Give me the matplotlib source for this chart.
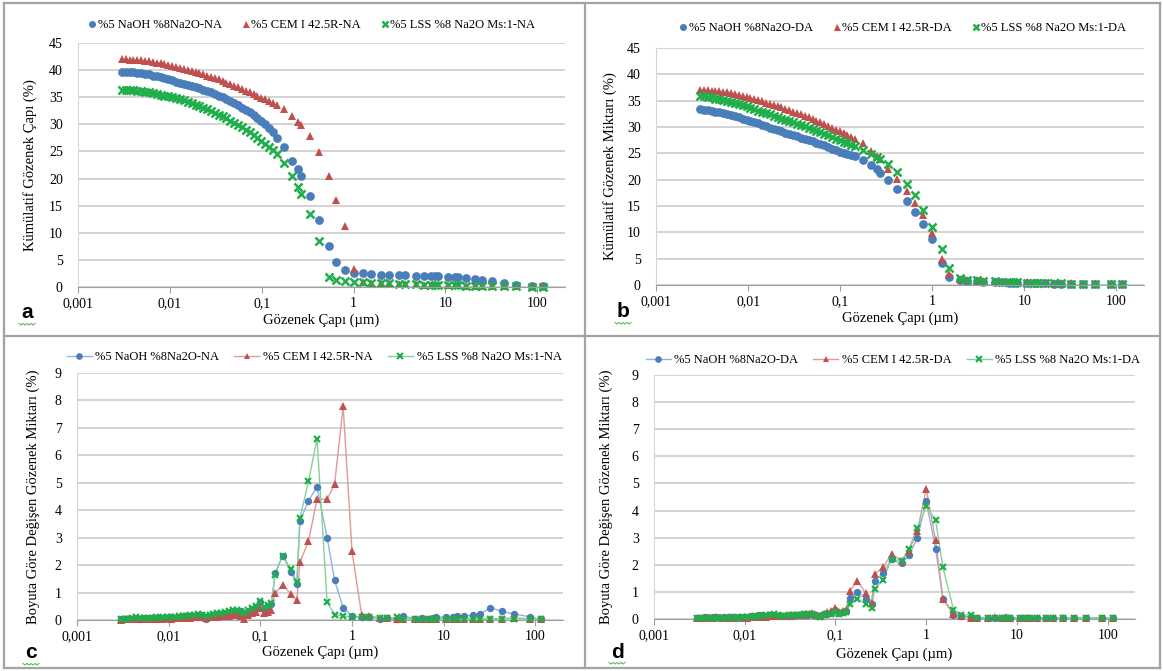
import numpy as np
import matplotlib.pyplot as plt
from matplotlib.lines import Line2D

plt.rcParams['font.family'] = ['Liberation Serif', 'DejaVu Serif']

# pore diameters (um), same intrusion steps for every mix
pore_d = [0.00300, 0.00331, 0.00364, 0.00401, 0.00442, 0.00487, 0.00537, 0.00592, 0.00652, 0.00719,
          0.00792, 0.00873, 0.00962, 0.0106, 0.0117, 0.0129, 0.0142, 0.0156, 0.0172, 0.0190,
          0.0209, 0.0230, 0.0254, 0.0280, 0.0308, 0.0340, 0.0374, 0.0413, 0.0455, 0.0501,
          0.0552, 0.0609, 0.0671, 0.0739, 0.0815, 0.0898, 0.0989, 0.109, 0.120, 0.132,
          0.145,
          0.175, 0.215, 0.250, 0.270, 0.335, 0.415, 0.535, 0.645, 0.800, 1.00,
          1.27, 1.53, 2.00, 2.40, 3.10, 3.60, 4.80, 5.80, 6.90, 7.60,
          8.30, 10.7, 12.6, 13.8, 16.6, 21.0, 25.0, 32.0, 43.0, 58.0,
          87.0, 114.0]

# cumulative pore volume (%) - NA
cum_naoh_na = [39.7, 39.7, 39.6, 39.6, 39.5, 39.4, 39.3, 39.2, 39.0, 38.9,
               38.7, 38.5, 38.3, 38.1, 37.9, 37.7, 37.5, 37.3, 37.1, 36.9,
               36.7, 36.4, 36.2, 35.9, 35.6, 35.3, 35.0, 34.6, 34.3, 33.9,
               33.5, 33.1, 32.7, 32.2, 31.7, 31.2, 30.6, 30.0, 29.3, 28.5,
               27.5,
               25.8, 23.3, 21.7, 20.4, 16.7, 12.3, 7.6, 4.6, 3.1, 2.6,
               2.5, 2.4, 2.3, 2.3, 2.2, 2.2, 2.1, 2.1, 2.0, 2.0,
               2.0, 1.9, 1.8, 1.8, 1.7, 1.4, 1.2, 1.05, 0.7, 0.45,
               0.2, 0.1]
cum_cem_na = [42.0, 42.0, 41.9, 41.9, 41.9, 41.8, 41.7, 41.6, 41.5, 41.4,
              41.3, 41.1, 41.0, 40.8, 40.6, 40.4, 40.2, 40.0, 39.8, 39.6,
              39.4, 39.2, 39.0, 38.8, 38.5, 38.3, 38.0, 37.7, 37.4, 37.1,
              36.8, 36.5, 36.2, 35.9, 35.6, 35.2, 34.9, 34.6, 34.3, 34.0,
              33.6,
              32.9, 31.6, 30.5, 29.8, 27.8, 24.9, 20.5, 16.1, 11.2, 3.4,
              0.9, 0.8, 0.7, 0.65, 0.6, 0.55, 0.5, 0.45, 0.4, 0.4,
              0.35, 0.3, 0.3, 0.3, 0.25, 0.25, 0.2, 0.2, 0.15, 0.15,
              0.1, 0.1]
cum_lss_na = [36.4, 36.4, 36.3, 36.3, 36.2, 36.1, 36.0, 35.9, 35.8, 35.6,
              35.5, 35.3, 35.2, 35.0, 34.8, 34.6, 34.4, 34.1, 33.9, 33.6,
              33.4, 33.1, 32.8, 32.5, 32.1, 31.8, 31.5, 31.1, 30.7, 30.3,
              29.9, 29.5, 29.0, 28.5, 28.0, 27.5, 27.0, 26.4, 25.8, 25.2,
              24.5,
              22.8, 20.4, 18.5, 17.2, 13.4, 8.4, 1.9, 1.3, 1.1, 1.0,
              0.9, 0.8, 0.7, 0.65, 0.6, 0.5, 0.5, 0.45, 0.4, 0.4,
              0.35, 0.3, 0.3, 0.3, 0.25, 0.2, 0.2, 0.15, 0.15, 0.1,
              0.05, 0.05]

# cumulative pore volume (%) - DA
cum_naoh_da = [33.4, 33.3, 33.2, 33.1, 32.9, 32.8, 32.6, 32.4, 32.2, 32.0,
               31.8, 31.6, 31.4, 31.2, 30.9, 30.7, 30.4, 30.2, 29.9, 29.7,
               29.4, 29.2, 28.9, 28.7, 28.5, 28.2, 28.0, 27.8, 27.5, 27.3,
               27.0, 26.8, 26.5, 26.2, 25.9, 25.6, 25.3, 25.0, 24.8, 24.6,
               24.4,
               23.7, 22.7, 22.0, 21.3, 20.0, 18.2, 16.0, 13.9, 11.6, 8.7,
               4.2, 1.6, 0.9, 0.8, 0.7, 0.6, 0.5, 0.5, 0.45, 0.4,
               0.4, 0.35, 0.35, 0.3, 0.3, 0.25, 0.25, 0.2, 0.15, 0.15,
               0.1, 0.1]
cum_cem_da = [37.0, 37.0, 37.0, 36.9, 36.9, 36.8, 36.7, 36.6, 36.4, 36.3,
              36.1, 35.9, 35.7, 35.5, 35.3, 35.1, 34.9, 34.6, 34.4, 34.2,
              33.9, 33.7, 33.4, 33.2, 32.9, 32.7, 32.4, 32.1, 31.8, 31.5,
              31.2, 30.9, 30.6, 30.2, 29.9, 29.5, 29.2, 28.8, 28.5, 28.1,
              27.8,
              26.9, 25.4, 24.5, 24.0, 22.1, 20.2, 17.8, 15.6, 13.2, 9.8,
              5.0, 2.1, 1.2, 1.0, 0.9, 0.8, 0.7, 0.65, 0.6, 0.6,
              0.55, 0.5, 0.45, 0.45, 0.4, 0.35, 0.3, 0.3, 0.25, 0.2,
              0.15, 0.15]
cum_lss_da = [35.9, 35.8, 35.7, 35.6, 35.4, 35.3, 35.1, 34.9, 34.7, 34.5,
              34.3, 34.1, 33.9, 33.6, 33.4, 33.1, 32.9, 32.6, 32.4, 32.1,
              31.9, 31.6, 31.4, 31.1, 30.9, 30.6, 30.4, 30.1, 29.9, 29.6,
              29.3, 29.0, 28.7, 28.4, 28.1, 27.8, 27.5, 27.2, 26.9, 26.6,
              26.3,
              25.6, 24.9, 24.3, 23.9, 22.9, 21.4, 19.2, 17.0, 14.3, 11.0,
              6.8, 3.2, 1.3, 1.0, 0.9, 0.8, 0.7, 0.65, 0.6, 0.55,
              0.5, 0.45, 0.4, 0.4, 0.35, 0.3, 0.3, 0.25, 0.2, 0.15,
              0.1, 0.1]

# incremental pore volume (%) - NA
inc_naoh_na = [0.02, 0.03, 0.05, 0.04, 0.06, 0.05, 0.07, 0.06, 0.08, 0.07,
               0.08, 0.09, 0.08, 0.10, 0.09, 0.11, 0.12, 0.13, 0.14, 0.15,
               0.17, 0.18, 0.05, 0.15, 0.16, 0.18, 0.20, 0.22, 0.25, 0.28,
               0.30, 0.32, 0.22, 0.30, 0.38, 0.42, 0.65, 0.40, 0.50, 0.60,
               1.70,
               2.35, 1.75, 1.30, 3.60, 4.35, 4.85, 3.00, 1.45, 0.45, 0.15,
               0.10, 0.10, 0.05, 0.08, 0.05, 0.15, 0.05, 0.07, 0.05, 0.08,
               0.12, 0.10, 0.12, 0.15, 0.15, 0.18, 0.22, 0.45, 0.32, 0.22,
               0.12, 0.02]
inc_cem_na = [0.01, 0.02, 0.02, 0.03, 0.02, 0.03, 0.04, 0.03, 0.04, 0.05,
              0.04, 0.05, 0.06, 0.05, 0.06, 0.07, 0.08, 0.07, 0.09, 0.10,
              0.11, 0.12, 0.08, 0.10, 0.11, 0.12, 0.13, 0.15, 0.16, 0.18,
              0.20, 0.15, 0.04, 0.18, 0.25, 0.30, 0.42, 0.25, 0.30, 0.35,
              0.98,
              1.28, 0.95, 0.72, 2.10, 2.87, 4.40, 4.40, 4.95, 7.78, 2.50,
              0.20, 0.15, 0.08, 0.06, 0.04, 0.05, 0.04, 0.05, 0.04, 0.05,
              0.05, 0.04, 0.05, 0.05, 0.05, 0.05, 0.05, 0.05, 0.05, 0.08,
              0.05, 0.02]
inc_lss_na = [0.03, 0.05, 0.04, 0.06, 0.12, 0.08, 0.07, 0.09, 0.08, 0.10,
              0.09, 0.10, 0.11, 0.12, 0.12, 0.14, 0.15, 0.16, 0.17, 0.19,
              0.22, 0.20, 0.16, 0.20, 0.22, 0.24, 0.26, 0.28, 0.32, 0.35,
              0.38, 0.30, 0.25, 0.38, 0.45, 0.50, 0.68, 0.48, 0.55, 0.62,
              1.65,
              2.35, 1.85, 1.40, 3.70, 5.05, 6.60, 0.65, 0.20, 0.15, 0.10,
              0.10, 0.10, 0.08, 0.06, 0.10, 0.05, 0.04, 0.05, 0.04, 0.05,
              0.04, 0.04, 0.05, 0.04, 0.04, 0.05, 0.04, 0.04, 0.04, 0.05,
              0.04, 0.02]

# incremental pore volume (%) - DA
inc_naoh_da = [0.03, 0.05, 0.06, 0.05, 0.07, 0.06, 0.05, 0.06, 0.05, 0.06,
               0.05, 0.06, 0.07, 0.08, 0.10, 0.12, 0.13, 0.14, 0.12, 0.13,
               0.15, 0.12, 0.10, 0.11, 0.12, 0.12, 0.13, 0.14, 0.15, 0.16,
               0.18, 0.15, 0.10, 0.18, 0.20, 0.22, 0.32, 0.22, 0.25, 0.28,
               0.78,
               1.00, 0.75, 0.55, 1.40, 1.70, 2.20, 2.05, 2.35, 3.00, 4.35,
               2.60, 0.75, 0.15, 0.10, 0.08, 0.05, 0.04, 0.05, 0.04, 0.05,
               0.04, 0.04, 0.05, 0.04, 0.04, 0.05, 0.05, 0.05, 0.05, 0.05,
               0.05, 0.02]
inc_cem_da = [0.02, 0.04, 0.05, 0.06, 0.05, 0.07, 0.06, 0.05, 0.06, 0.05,
              0.06, 0.07, 0.05, 0.04, 0.06, 0.08, 0.09, 0.10, 0.08, 0.10,
              0.12, 0.10, 0.12, 0.11, 0.13, 0.14, 0.15, 0.16, 0.17, 0.18,
              0.22, 0.15, 0.12, 0.20, 0.24, 0.28, 0.42, 0.25, 0.30, 0.35,
              1.05,
              1.40, 0.95, 0.60, 1.65, 1.90, 2.40, 2.15, 2.50, 3.25, 4.80,
              2.90, 0.75, 0.20, 0.12, 0.05, 0.04, 0.05, 0.06, 0.05, 0.08,
              0.05, 0.04, 0.04, 0.05, 0.05, 0.05, 0.04, 0.05, 0.05, 0.05,
              0.04, 0.02]
inc_lss_da = [0.02, 0.03, 0.04, 0.03, 0.05, 0.04, 0.05, 0.04, 0.05, 0.06,
              0.05, 0.04, 0.06, 0.07, 0.08, 0.10, 0.11, 0.12, 0.13, 0.15,
              0.18, 0.14, 0.10, 0.12, 0.13, 0.14, 0.15, 0.16, 0.17, 0.18,
              0.20, 0.12, 0.08, 0.15, 0.18, 0.20, 0.25, 0.18, 0.22, 0.26,
              0.55,
              0.75, 0.55, 0.40, 1.10, 1.45, 2.20, 2.15, 2.60, 3.35, 4.15,
              3.65, 1.90, 0.35, 0.15, 0.15, 0.05, 0.04, 0.05, 0.03, 0.04,
              0.03, 0.03, 0.04, 0.03, 0.03, 0.04, 0.04, 0.04, 0.04, 0.04,
              0.03, 0.02]

labels_na = ['%5 NaOH %8Na2O-NA', '%5 CEM I 42.5R-NA', '%5 LSS %8 Na2O Ms:1-NA']
labels_da = ['%5 NaOH %8Na2O-DA', '%5 CEM I 42.5R-DA', '%5 LSS %8 Na2O Ms:1-DA']
x_ticks = [0.001, 0.01, 0.1, 1, 10, 100]
x_ticklabels = ['0,001', '0,01', '0,1', '1', '10', '100']

colors = ['#4a7ebb', '#c0504d', '#1fae4a']
line_colors = ['#8fb3e0', '#e09a98', '#82d39a']
markers = ['o', '^', 'x']


def setup_axes(ax, ymax, ystep, ylabel, label_x, xlabel_y):
    ax.set_xscale('log')
    ax.set_xlim(0.001, 200)
    ax.set_ylim(0, ymax)
    ax.set_yticks(np.arange(0, ymax + 0.1, ystep))
    ax.set_xticks(x_ticks)
    ax.set_xticklabels(x_ticklabels)
    ax.minorticks_off()
    ax.grid(axis='y', color='#d0d0d0', linewidth=1.3)
    ax.set_axisbelow(True)
    for side in ['top', 'right']:
        ax.spines[side].set_visible(False)
    ax.spines['left'].set_color('#d6d6d6')
    ax.spines['bottom'].set_color('#a0a0a0')
    ax.tick_params(axis='y', length=0, pad=11, labelsize=10)
    ax.tick_params(axis='x', length=4, color='#a0a0a0', pad=3, labelsize=10)
    ax.set_xlabel('Gözenek Çapı (µm)', fontsize=10.5)
    ax.set_ylabel(ylabel, fontsize=10.5)
    ax.yaxis.set_label_coords(label_x, 0.5)
    ax.xaxis.set_label_coords(0.5, xlabel_y)


def cumulative_panel(ax, series, labels, ylabel, label_x, xlabel_y, leg_pos):
    setup_axes(ax, 45, 5, ylabel, label_x, xlabel_y)
    for i, vals in enumerate(series):
        if markers[i] == 'x':
            ax.plot(pore_d, vals, 'x', color=colors[i], ms=5.8, mew=1.8,
                    label=labels[i], clip_on=False)
        else:
            ax.plot(pore_d, vals, markers[i], color=colors[i], ms=6.3,
                    mew=0, label=labels[i], clip_on=False)
    ax.legend(loc='center', bbox_to_anchor=leg_pos, ncol=3, frameon=False,
              fontsize=9, handlelength=0.6, handletextpad=0.15,
              columnspacing=1.6, borderaxespad=0, markerscale=0.8)


def increment_panel(ax, series, labels, label_x, xlabel_y, leg_pos):
    setup_axes(ax, 9, 1, 'Boyuta Göre Değişen Gözenek Miktarı (%)',
               label_x, xlabel_y)
    for i, vals in enumerate(series):
        ax.plot(pore_d, vals, color=line_colors[i], lw=1.0, zorder=2,
                clip_on=False)
        if markers[i] == 'x':
            ax.plot(pore_d, vals, 'x', color=colors[i], ms=5.0, mew=1.6,
                    zorder=3, clip_on=False)
        else:
            ax.plot(pore_d, vals, markers[i], color=colors[i], ms=5.3,
                    mew=0, zorder=3, clip_on=False)
    handles = []
    for i in range(3):
        mew = 1.5 if markers[i] == 'x' else 0
        handles.append(Line2D([], [], color=line_colors[i], lw=1.0,
                              marker=markers[i], ms=4.8, mew=mew,
                              mfc=colors[i], mec=colors[i]))
    ax.legend(handles, labels, loc='center', bbox_to_anchor=leg_pos, ncol=3,
              frameon=False, fontsize=9, handlelength=2.0,
              handletextpad=0.3, columnspacing=1.2, borderaxespad=0)


fig = plt.figure(figsize=(11.63, 6.71), dpi=100)

ax_a = fig.add_axes([0.0671, 0.5723, 0.4187, 0.3636])
ax_b = fig.add_axes([0.5641, 0.5753, 0.4196, 0.3532])
ax_c = fig.add_axes([0.0662, 0.0760, 0.4179, 0.3681])
ax_d = fig.add_axes([0.5623, 0.0775, 0.4136, 0.3636])

cumulative_panel(ax_a, [cum_naoh_na, cum_cem_na, cum_lss_na], labels_na,
                 'Kümülatif Gözenek Çapı (%)', -0.084, -0.11, (0.48, 1.074))
cumulative_panel(ax_b, [cum_naoh_da, cum_cem_da, cum_lss_da], labels_da,
                 'Kümülatif Gözenek Miktarı (%)', -0.080, -0.114, (0.506, 1.084))
increment_panel(ax_c, [inc_naoh_na, inc_cem_na, inc_lss_na], labels_na,
                -0.076, -0.105, (0.488, 1.065))
increment_panel(ax_d, [inc_naoh_da, inc_cem_da, inc_lss_da], labels_da,
                -0.085, -0.115, (0.497, 1.061))

# panel frames
W, H = 1163.0, 671.0
frame = dict(color='#a3a3a3', lw=1.6, transform=fig.transFigure)
for xs, ys in [([4, 4], [3, 668]), ([1160, 1160], [3, 668]),
               ([585, 585], [3, 668]), ([4, 1160], [3, 3]),
               ([4, 1160], [336, 336]), ([4, 1160], [668, 668])]:
    fig.add_artist(Line2D([x / W for x in xs], [1 - y / H for y in ys], **frame))

# panel letters with the little spell-check squiggle under them
for letter, px, py in [('a', 27, 313), ('b', 623, 312), ('c', 31, 653), ('d', 617, 652)]:
    fig.text(px / W, 1 - py / H, letter, family='Liberation Sans',
             fontweight='bold', fontsize=15, ha='center', va='center')
    zx = [px - 8 + 2 * k for k in range(9)]
    zy = [py + 11 + (1 if k % 2 else -0.5) for k in range(9)]
    fig.add_artist(Line2D([x / W for x in zx], [1 - y / H for y in zy],
                          color='#5cb85c', lw=0.8, transform=fig.transFigure))

fig.savefig('out.png', dpi=100)
